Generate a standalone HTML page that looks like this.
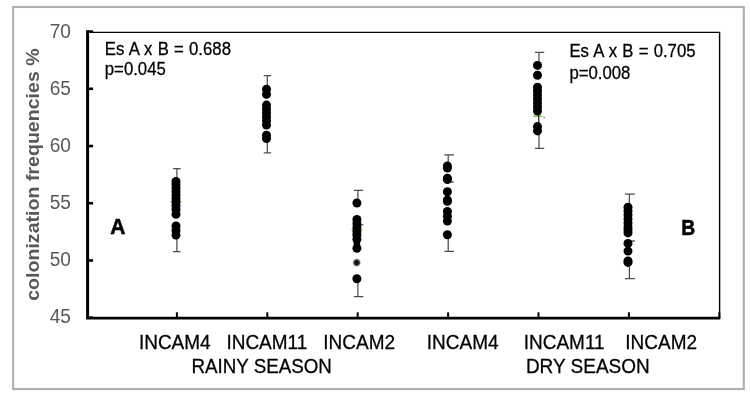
<!DOCTYPE html>
<html><head><meta charset="utf-8"><title>chart</title>
<style>
html,body{margin:0;padding:0;background:#fff;}
body{width:750px;height:407px;overflow:hidden;font-family:"Liberation Sans",sans-serif;}
svg{display:block;font-family:"Liberation Sans",sans-serif;will-change:transform;opacity:0.999;}
</style></head><body>
<svg width="750" height="407" viewBox="0 0 750 407">
<defs><radialGradient id="fz"><stop offset="0" stop-color="#080808"/><stop offset="0.42" stop-color="#1a1a1a"/><stop offset="0.62" stop-color="#555"/><stop offset="0.8" stop-color="#aaa" stop-opacity="0.7"/><stop offset="1" stop-color="#ddd" stop-opacity="0"/></radialGradient></defs>
<rect x="0" y="0" width="750" height="407" fill="#fff"/>
<rect x="13.15" y="7.0" width="730.65" height="382.05" fill="#fff" stroke="#afafaf" stroke-width="2.1"/>
<!-- plot frame -->
<path d="M87.6 32.4H719.6V318" fill="none" stroke="#000" stroke-width="1.4"/>
<path d="M87.6 30.3V318.1" fill="none" stroke="#000" stroke-width="3"/>
<path d="M86.1 318.1H720.3" fill="none" stroke="#000" stroke-width="2.7"/>
<path d="M87.6 31.60H93.1" stroke="#000" stroke-width="2.6"/>
<text transform="translate(70.9 37.60) scale(1.03 1.10)" text-anchor="end" font-size="18.5" fill="#595959">70</text>
<path d="M87.6 88.82H93.1" stroke="#000" stroke-width="2.6"/>
<text transform="translate(70.9 94.65) scale(1.03 1.10)" text-anchor="end" font-size="18.5" fill="#595959">65</text>
<path d="M87.6 146.04H93.1" stroke="#000" stroke-width="2.6"/>
<text transform="translate(70.9 151.70) scale(1.03 1.10)" text-anchor="end" font-size="18.5" fill="#595959">60</text>
<path d="M87.6 203.26H93.1" stroke="#000" stroke-width="2.6"/>
<text transform="translate(70.9 208.75) scale(1.03 1.10)" text-anchor="end" font-size="18.5" fill="#595959">55</text>
<path d="M87.6 260.48H93.1" stroke="#000" stroke-width="2.6"/>
<text transform="translate(70.9 265.80) scale(1.03 1.10)" text-anchor="end" font-size="18.5" fill="#595959">50</text>
<path d="M87.6 317.70H93.1" stroke="#000" stroke-width="2.6"/>
<text transform="translate(70.9 322.85) scale(1.03 1.10)" text-anchor="end" font-size="18.5" fill="#595959">45</text>

<path d="M176.9 318V312.3" stroke="#000" stroke-width="2"/>
<path d="M267.3 318V312.3" stroke="#000" stroke-width="2"/>
<path d="M357.7 318V312.3" stroke="#000" stroke-width="2"/>
<path d="M448.1 318V312.3" stroke="#000" stroke-width="2"/>
<path d="M538.5 318V312.3" stroke="#000" stroke-width="2"/>
<path d="M628.9 318V312.3" stroke="#000" stroke-width="2"/>
<path d="M719.3 318V312.3" stroke="#000" stroke-width="2"/>

<path d="M173.0 168.5H180.7M176.9 168.5V181.4M176.9 235.1V251.5M173.0 251.5H180.7" stroke="#4d4d4d" stroke-width="1.25" fill="none"/>
<path d="M170.7 201.6H181.3" stroke="#8cc63f" stroke-width="1.6"/>
<circle cx="176.0" cy="181.4" r="4.5" fill="#000"/>
<circle cx="176.0" cy="184.5" r="4.5" fill="#000"/>
<circle cx="176.0" cy="188" r="4.5" fill="#000"/>
<circle cx="176.0" cy="191.5" r="4.5" fill="#000"/>
<circle cx="176.0" cy="195" r="4.5" fill="#000"/>
<circle cx="176.0" cy="198.5" r="4.5" fill="#000"/>
<circle cx="176.0" cy="202" r="4.5" fill="#000"/>
<circle cx="176.0" cy="205.5" r="4.5" fill="#000"/>
<circle cx="176.0" cy="209.5" r="4.5" fill="#000"/>
<circle cx="176.0" cy="214.2" r="4.5" fill="#000"/>
<circle cx="176.0" cy="226" r="4.5" fill="#000"/>
<circle cx="176.0" cy="230.5" r="4.5" fill="#000"/>
<circle cx="176.0" cy="235.1" r="4.5" fill="#000"/>
<path d="M263.7 75.7H271.1M267.3 75.7V89.2M267.3 138.5V152.8M263.7 152.8H271.1" stroke="#4d4d4d" stroke-width="1.25" fill="none"/>
<circle cx="266.5" cy="89.2" r="4.5" fill="#000"/>
<circle cx="266.5" cy="94.2" r="4.5" fill="#000"/>
<circle cx="266.5" cy="105.1" r="4.5" fill="#000"/>
<circle cx="266.5" cy="109" r="4.5" fill="#000"/>
<circle cx="266.5" cy="113" r="4.5" fill="#000"/>
<circle cx="266.5" cy="117" r="4.5" fill="#000"/>
<circle cx="266.5" cy="121" r="4.5" fill="#000"/>
<circle cx="266.5" cy="125.1" r="4.5" fill="#000"/>
<circle cx="266.5" cy="135.3" r="4.5" fill="#000"/>
<circle cx="266.5" cy="138.5" r="4.5" fill="#000"/>
<path d="M353.9 190.3H363.3M357.9 190.3V203M357.9 278.7V296.7M353.9 296.7H363.3" stroke="#4d4d4d" stroke-width="1.25" fill="none"/>
<path d="M351.6 229.6H362.4" stroke="#8cc63f" stroke-width="1.6"/><path d="M357 224.8H363.2" stroke="#333" stroke-width="1.2"/><circle cx="356.9" cy="243.8" r="3.3" fill="#000"/>
<circle cx="356.9" cy="203" r="4.5" fill="#000"/>
<circle cx="356.9" cy="219.4" r="4.5" fill="#000"/>
<circle cx="356.9" cy="223.5" r="4.5" fill="#000"/>
<circle cx="356.9" cy="227.5" r="4.5" fill="#000"/>
<circle cx="356.9" cy="231.5" r="4.5" fill="#000"/>
<circle cx="356.9" cy="235" r="4.5" fill="#000"/>
<circle cx="356.9" cy="239.2" r="4.5" fill="#000"/>
<circle cx="356.9" cy="248.3" r="4.5" fill="#000"/>
<circle cx="356.9" cy="278.7" r="4.5" fill="#000"/>
<circle cx="356.7" cy="262.6" r="4.7" fill="url(#fz)"/>
<path d="M444.4 154.8H454.0M448.2 154.8V166M448.2 234.7V251.4M444.4 251.4H454.0" stroke="#4d4d4d" stroke-width="1.25" fill="none"/>
<path d="M447 182H453.8" stroke="#333" stroke-width="1.2"/>
<circle cx="447.4" cy="166" r="4.5" fill="#000"/>
<circle cx="447.4" cy="168" r="4.5" fill="#000"/>
<circle cx="447.4" cy="178.2" r="4.5" fill="#000"/>
<circle cx="447.4" cy="179.6" r="4.5" fill="#000"/>
<circle cx="447.4" cy="191.7" r="4.5" fill="#000"/>
<circle cx="447.4" cy="200.0" r="4.5" fill="#000"/>
<circle cx="447.4" cy="201.4" r="4.5" fill="#000"/>
<circle cx="447.4" cy="211.5" r="4.5" fill="#000"/>
<circle cx="447.4" cy="216.3" r="4.5" fill="#000"/>
<circle cx="447.4" cy="221.0" r="4.5" fill="#000"/>
<circle cx="447.4" cy="234.7" r="4.5" fill="#000"/>
<path d="M534.9 52.3H544.2M539.0 52.3V65.4M539.0 130.9V148.4M534.9 148.4H544.2" stroke="#4d4d4d" stroke-width="1.25" fill="none"/>
<path d="M532.8 116.3H542.2" stroke="#86b840" stroke-width="1.7" opacity="0.85"/><path d="M538.7 115V124" stroke="#333" stroke-width="1.3"/><circle cx="544.2" cy="117.4" r="0.7" fill="#555"/>
<circle cx="537.5" cy="65.4" r="4.5" fill="#000"/>
<circle cx="537.5" cy="75.3" r="4.5" fill="#000"/>
<circle cx="537.5" cy="87.2" r="4.5" fill="#000"/>
<circle cx="537.5" cy="91" r="4.5" fill="#000"/>
<circle cx="537.5" cy="95" r="4.5" fill="#000"/>
<circle cx="537.5" cy="99" r="4.5" fill="#000"/>
<circle cx="537.5" cy="103" r="4.5" fill="#000"/>
<circle cx="537.5" cy="107" r="4.5" fill="#000"/>
<circle cx="537.5" cy="111" r="4.5" fill="#000"/>
<circle cx="537.5" cy="126.6" r="4.5" fill="#000"/>
<circle cx="537.5" cy="130.9" r="4.5" fill="#000"/>
<path d="M625.0 194.1H634.9M629.4 194.1V207.3M629.4 262.4V278.7M625.0 278.7H634.9" stroke="#4d4d4d" stroke-width="1.25" fill="none"/>
<path d="M628 241H634.9" stroke="#333" stroke-width="1.2"/>
<circle cx="628.0" cy="207.3" r="4.5" fill="#000"/>
<circle cx="628.0" cy="211" r="4.5" fill="#000"/>
<circle cx="628.0" cy="215" r="4.5" fill="#000"/>
<circle cx="628.0" cy="219" r="4.5" fill="#000"/>
<circle cx="628.0" cy="223" r="4.5" fill="#000"/>
<circle cx="628.0" cy="227" r="4.5" fill="#000"/>
<circle cx="628.0" cy="230" r="4.5" fill="#000"/>
<circle cx="628.0" cy="232.9" r="4.5" fill="#000"/>
<circle cx="628.0" cy="243.4" r="4.5" fill="#000"/>
<circle cx="628.0" cy="251.1" r="4.5" fill="#000"/>
<circle cx="628.0" cy="261" r="4.5" fill="#000"/>
<circle cx="628.0" cy="262.4" r="4.5" fill="#000"/>
<!-- annotations -->
<g font-size="16.4" fill="#000" stroke="#000" stroke-width="0.25" word-spacing="0.55">
<text transform="translate(104.8 54.8) scale(1.022 1.07)">Es A x B = 0.688</text>
<text transform="translate(104.8 75.1) scale(1.022 1.07)">p=0.045</text>
<text transform="translate(569.4 57.3) scale(1.022 1.07)">Es A x B = 0.705</text>
<text transform="translate(569.4 78.5) scale(1.022 1.07)">p=0.008</text>
</g>
<g font-size="21" font-weight="bold" fill="#000" stroke="#000" stroke-width="0.5">
<text transform="translate(110.2 234.4) scale(1 1.09)">A</text>
<text transform="translate(681.2 234.6) scale(0.92 1.03)">B</text>
</g>
<!-- x labels -->
<g font-size="19" fill="#000" stroke="#000" stroke-width="0.25">
<text transform="translate(138.9 348.6) scale(1 1.075)">INCAM4</text>
<text transform="translate(226.4 348.6) scale(1 1.075)">INCAM11</text>
<text transform="translate(323.3 348.6) scale(1 1.075)">INCAM2</text>
<text transform="translate(426.8 348.6) scale(1 1.075)">INCAM4</text>
<text transform="translate(523.7 348.6) scale(1 1.075)">INCAM11</text>
<text transform="translate(625.3 348.6) scale(1 1.075)">INCAM2</text>
<text transform="translate(191.4 372.8) scale(0.988 1.075)">RAINY SEASON</text>
<text transform="translate(525.9 372.8) scale(1 1.075)">DRY SEASON</text>
</g>
<!-- y label -->
<text transform="translate(38.9 300.8) rotate(-90)" font-size="19" font-weight="bold" fill="#595959" textLength="252.5" lengthAdjust="spacingAndGlyphs">colonization frequencies %</text>
</svg>
</body></html>
